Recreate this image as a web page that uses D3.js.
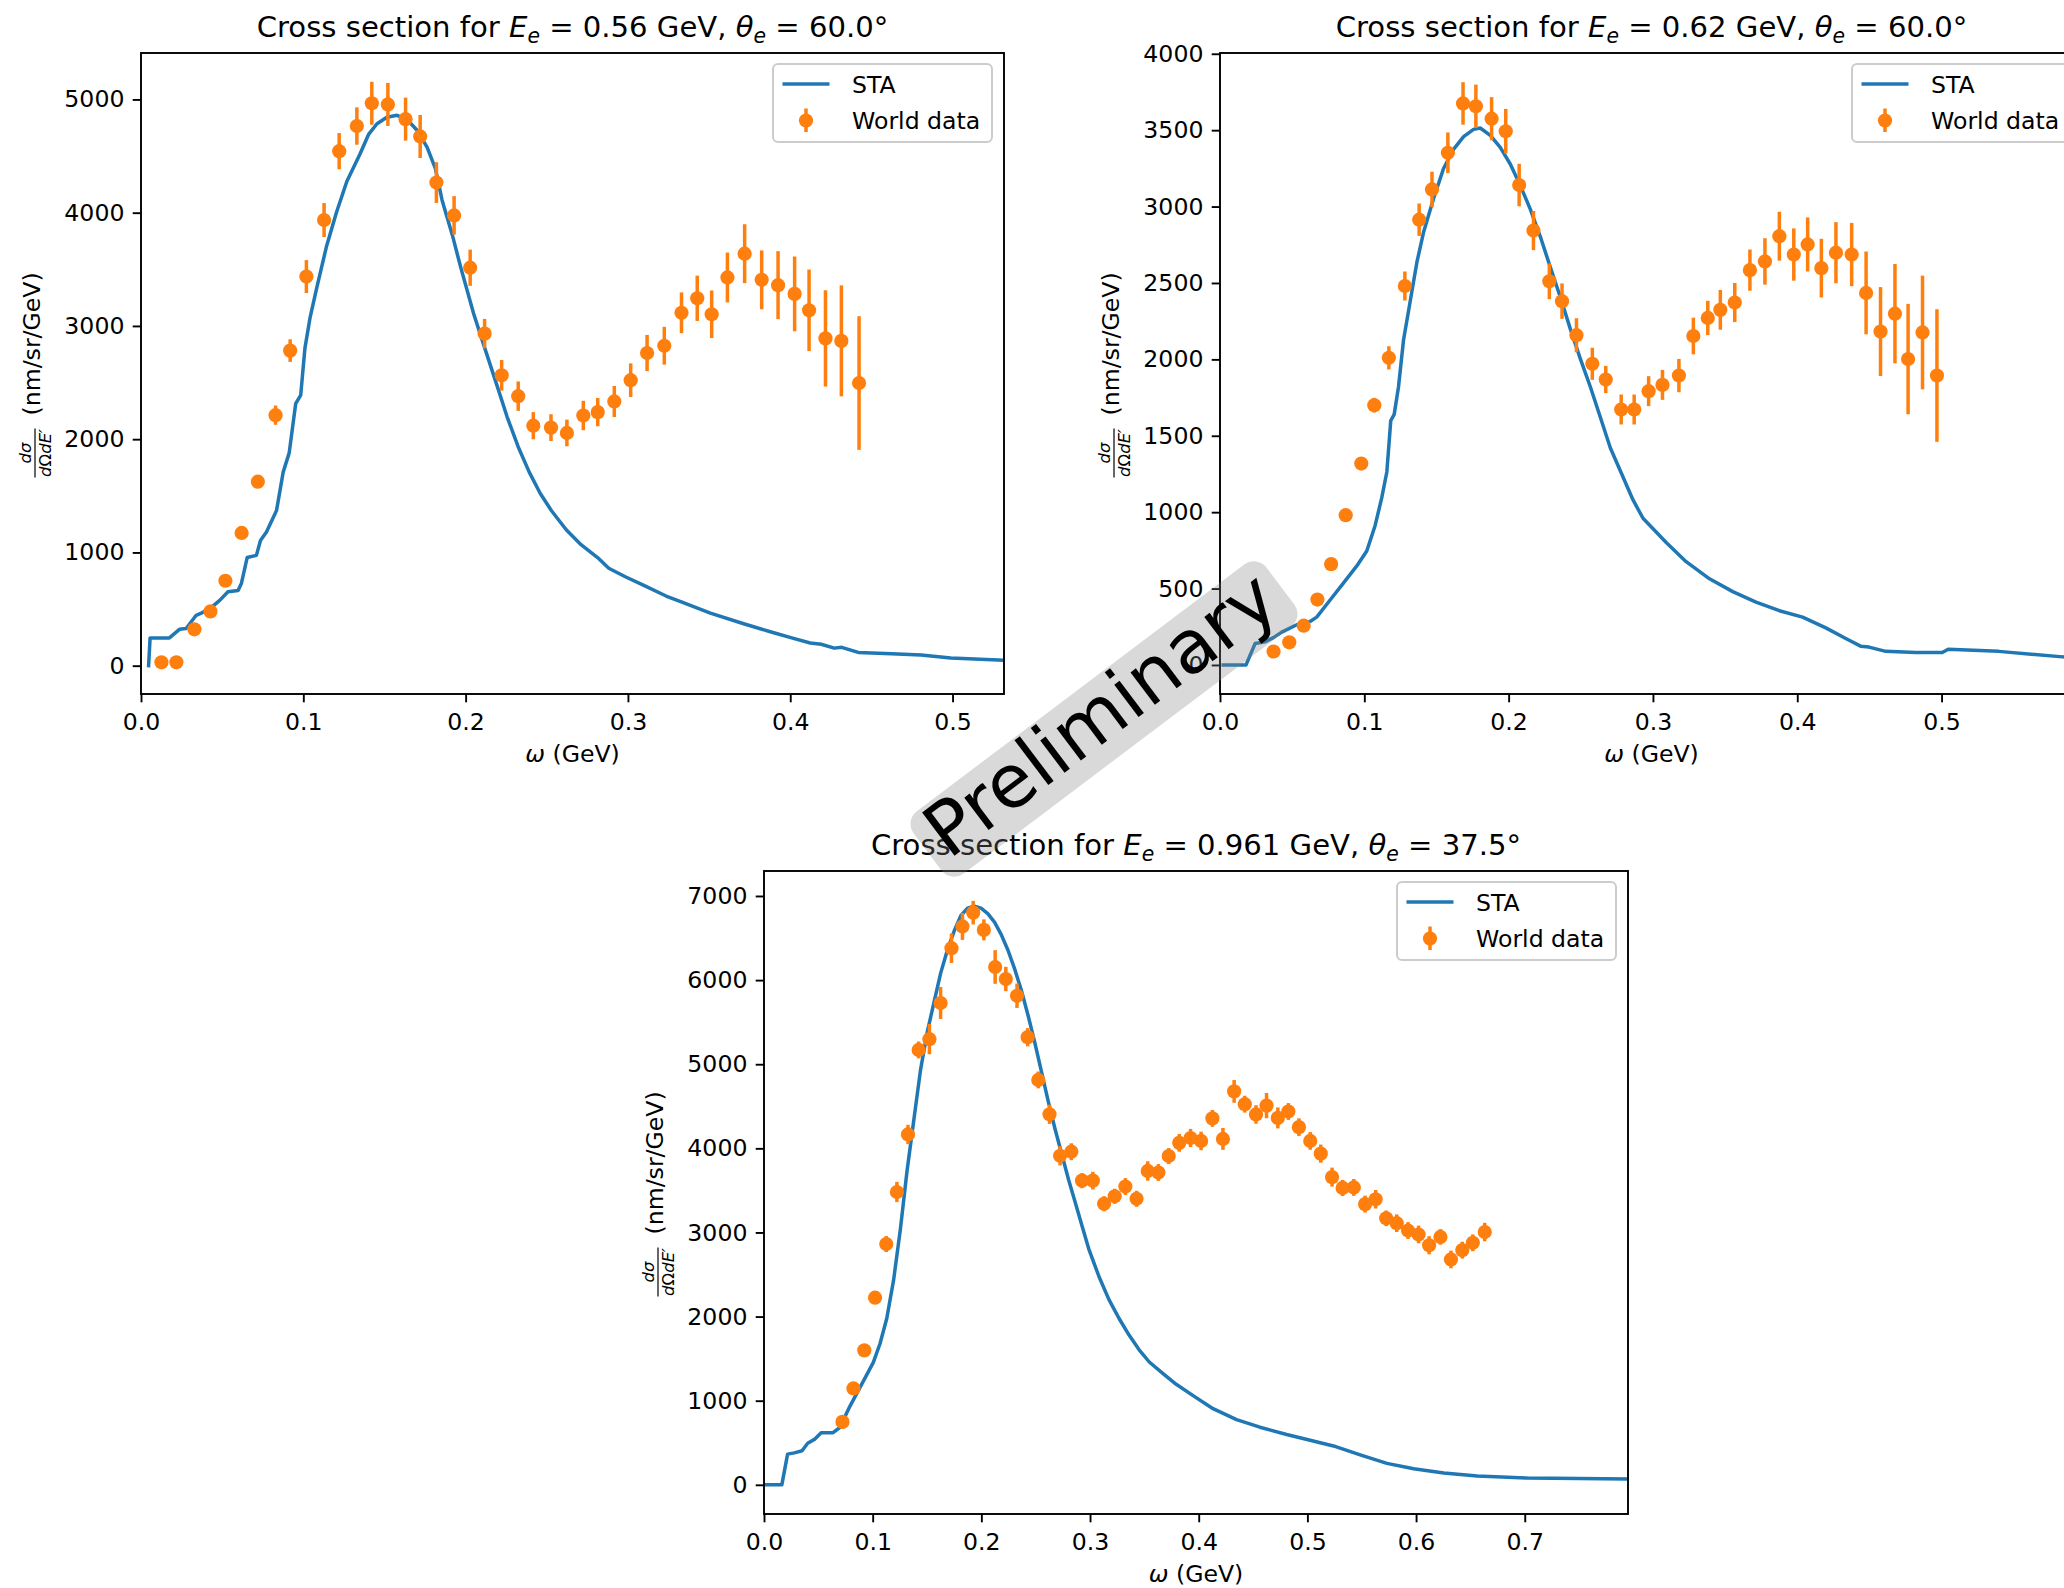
<!DOCTYPE html>
<html><head><meta charset="utf-8">
<script src="https://cdn.jsdelivr.net/npm/d3@7"></script>
<style>
html,body{margin:0;padding:0;background:#fff;overflow:hidden;}
svg text{font-family:"DejaVu Sans",sans-serif;white-space:pre;}
</style></head><body>
<svg id="fig" width="2064" height="1588"></svg>
<script>
// ---------------- data ----------------
// Panel 1 : E = 0.56 GeV, theta = 60.0
const p1Title = ["0.56", "60.0"];
const p1XTicks = [0.0, 0.1, 0.2, 0.3, 0.4, 0.5];
const p1YTicks = [0, 1000, 2000, 3000, 4000, 5000];
const p1StaX = [0.0047,0.0056,0.0175,0.0237,0.0278,0.034,0.0371,0.0423,0.0485,0.0536,0.0598,0.0619,0.0654,0.0711,0.0736,0.0773,0.0835,0.0876,0.0913,0.0953,0.0984,0.101,0.1041,0.1082,0.1144,0.1206,0.1268,0.135,0.1402,0.1454,0.1515,0.1577,0.1639,0.1701,0.1763,0.1814,0.1855,0.1918,0.1969,0.205,0.2118,0.2187,0.2255,0.2323,0.2392,0.246,0.2528,0.262,0.2711,0.2813,0.2882,0.2984,0.3098,0.3235,0.3337,0.3508,0.3713,0.3872,0.4009,0.4123,0.4191,0.4271,0.4317,0.4419,0.4624,0.4806,0.4989,0.5317];
const p1StaY = [0,245,245,321,328,445,464,502,577,653,664,728,955,974,1106,1181,1370,1709,1879,2313,2389,2804,3068,3332,3709,4011,4275,4521,4691,4785,4842,4860,4823,4728,4577,4389,4110,3804,3521,3106,2804,2502,2200,1936,1709,1521,1370,1200,1068,955,860,785,709,615,558,464,370,302,245,200,189,155,162,117,106,94,68,49];
const p1DataX = [0.0126,0.0218,0.0329,0.0428,0.052,0.062,0.072,0.0829,0.0919,0.1019,0.1128,0.1221,0.133,0.1422,0.1521,0.163,0.172,0.182,0.1929,0.2028,0.2117,0.2222,0.2324,0.2417,0.2526,0.2624,0.2725,0.2814,0.2916,0.3017,0.3118,0.3224,0.333,0.3427,0.3516,0.3613,0.3719,0.3824,0.3925,0.4027,0.4116,0.4217,0.4315,0.4424];
const p1DataY = [30,30,321,479,750,1172,1625,2212,2782,3436,3935,4543,4765,4966,4956,4826,4673,4266,3976,3514,2932,2564,2380,2119,2102,2055,2209,2239,2333,2521,2761,2825,3116,3244,3103,3428,3638,3407,3360,3283,3138,2890,2868,2496];
const p1DataErr = [25,25,30,35,40,45,50,85,100,145,150,160,165,190,190,190,190,180,170,160,130,135,130,120,118,118,130,125,137,148,160,167,180,200,210,220,260,260,300,330,360,425,490,590];

// Panel 2 : E = 0.62 GeV, theta = 60.0
const p2Title = ["0.62", "60.0"];
const p2XTicks = [0.0, 0.1, 0.2, 0.3, 0.4, 0.5];
const p2YTicks = [0, 500, 1000, 1500, 2000, 2500, 3000, 3500, 4000];
const p2StaX = [0.0022,0.018,0.0243,0.0312,0.037,0.0428,0.0532,0.0624,0.067,0.0763,0.0855,0.0948,0.1017,0.1075,0.1121,0.1156,0.1172,0.1183,0.1207,0.1237,0.1272,0.1318,0.1364,0.141,0.148,0.1549,0.1618,0.1688,0.1757,0.1803,0.1873,0.1942,0.2012,0.2081,0.215,0.222,0.2289,0.2358,0.2428,0.2497,0.2566,0.2636,0.2705,0.2862,0.2931,0.3092,0.323,0.3392,0.3553,0.3714,0.3876,0.4037,0.4198,0.4336,0.4439,0.4497,0.4613,0.482,0.5005,0.5046,0.5396,0.5839,0.598];
const p2StaY = [0,0,140,151,179,215,263,285,313,425,536,648,746,913,1095,1263,1458,1598,1640,1821,2128,2380,2634,2830,3053,3249,3374,3458,3505,3514,3466,3388,3277,3137,2983,2802,2603,2408,2198,2003,1821,1620,1420,1080,960,802,676,564,480,411,355,313,243,173,123,117,89,81,81,103,89,53,45];
const p2DataX = [0.0371,0.048,0.058,0.0675,0.077,0.0871,0.0979,0.1069,0.117,0.1281,0.138,0.1469,0.1579,0.1684,0.1773,0.1882,0.198,0.2073,0.2172,0.2282,0.237,0.247,0.258,0.2673,0.278,0.287,0.297,0.3066,0.318,0.328,0.338,0.3467,0.3567,0.3672,0.3776,0.3876,0.3976,0.4072,0.4167,0.4268,0.4377,0.4477,0.4577,0.4677,0.4768,0.4868,0.4968];
const p2DataY = [88,148,257,428,660,980,1318,1700,2010,2480,2914,3112,3352,3675,3656,3575,3493,3141,2843,2511,2381,2158,1971,1868,1672,1672,1792,1833,1894,2153,2271,2324,2372,2584,2641,2806,2686,2752,2597,2698,2686,2435,2182,2299,2002,2176,1894];
const p2DataErr = [20,22,25,28,32,36,40,48,76,95,106,116,133,139,142,141,146,139,128,117,116,111,105,89,98,98,98,98,109,120,112,130,128,135,152,160,171,177,192,200,207,271,291,325,361,372,434];

// Panel 3 : E = 0.961 GeV, theta = 37.5
const p3Title = ["0.961", "37.5"];
const p3XTicks = [0.0, 0.1, 0.2, 0.3, 0.4, 0.5, 0.6, 0.7];
const p3YTicks = [0, 1000, 2000, 3000, 4000, 5000, 6000, 7000];
const p3StaX = [0.0022,0.0164,0.0217,0.0279,0.035,0.0402,0.0464,0.0526,0.0635,0.0697,0.0789,0.0913,0.1006,0.1068,0.113,0.1192,0.1254,0.1316,0.1378,0.144,0.1502,0.1563,0.1625,0.1687,0.1749,0.1811,0.1873,0.1935,0.1997,0.2059,0.2121,0.2183,0.2245,0.2307,0.2368,0.243,0.2492,0.2554,0.2616,0.2678,0.274,0.2802,0.2864,0.2926,0.2988,0.3081,0.3173,0.3266,0.3359,0.3452,0.3545,0.3669,0.3793,0.3948,0.4132,0.4348,0.4563,0.4809,0.5025,0.524,0.5486,0.5732,0.5978,0.6255,0.6563,0.7025,0.7948];
const p3StaY = [0,0,365,380,405,495,540,620,620,680,930,1230,1455,1680,1980,2430,3030,3730,4330,4930,5380,5730,6080,6355,6580,6765,6855,6880,6855,6790,6690,6540,6355,6130,5880,5580,5255,4905,4555,4230,3930,3630,3355,3080,2805,2480,2205,1980,1780,1605,1460,1325,1195,1060,905,775,685,598,530,462,355,255,190,140,105,80,70];
const p3DataX = [0.0722,0.0823,0.0923,0.1022,0.1125,0.1223,0.1325,0.1423,0.1522,0.1625,0.1725,0.1826,0.1925,0.2023,0.2127,0.2225,0.2328,0.2426,0.2524,0.2627,0.2724,0.2828,0.2926,0.3026,0.3129,0.3227,0.3325,0.3428,0.3531,0.3629,0.3724,0.3821,0.3925,0.4022,0.4126,0.4223,0.4326,0.4424,0.4527,0.4624,0.4728,0.4825,0.4922,0.5026,0.5123,0.5227,0.5324,0.5427,0.5531,0.5628,0.5725,0.5822,0.5926,0.6023,0.612,0.6224,0.6321,0.6425,0.6522,0.6632];
const p3DataY = [748,1146,1598,2225,2862,3481,4165,5170,5298,5728,6379,6638,6802,6597,6156,6013,5814,5321,4813,4405,3912,3960,3616,3616,3341,3430,3546,3400,3731,3713,3908,4065,4123,4088,4356,4112,4677,4525,4403,4508,4362,4438,4252,4088,3937,3658,3529,3535,3337,3395,3168,3110,3023,2976,2848,2947,2679,2790,2877,3005];
const p3DataErr = [40,50,50,60,95,120,115,100,180,190,175,160,140,125,200,145,145,108,100,115,115,100,90,105,90,90,100,95,115,100,95,105,108,110,100,130,135,100,110,150,125,100,105,105,108,113,96,100,100,110,93,105,100,105,108,93,105,100,100,110];

const legendLabels = ["STA", "World data"];
const watermarkText = "Preliminary";

// ---------------- layout / style ----------------
const C_LINE = "#1f77b4", C_DATA = "#ff7f0e";
const FS = 23.6, TFS = 29.1;
const TICK = 8.3, LW_SPINE = 1.9, LW = 3.5, MR = 7.1;

const panels = [
  {left:141, top:53, w:863, h:641, xmax:0.5317, ymin:-250, ymax:5410, title:p1Title, xt:p1XTicks, yt:p1YTicks,
   sx:p1StaX, sy:p1StaY, dx:p1DataX, dy:p1DataY, de:p1DataErr},
  {left:1220, top:53, w:863, h:641, xmax:0.598, ymin:-190, ymax:4005, title:p2Title, xt:p2XTicks, yt:p2YTicks,
   sx:p2StaX, sy:p2StaY, dx:p2DataX, dy:p2DataY, de:p2DataErr},
  {left:764, top:871, w:864, h:643, xmax:0.795, ymin:-347, ymax:7297, title:p3Title, xt:p3XTicks, yt:p3YTicks,
   sx:p3StaX, sy:p3StaY, dx:p3DataX, dy:p3DataY, de:p3DataErr}
];

const svg = d3.select("#fig");
svg.append("rect").attr("width",2064).attr("height",1588).attr("fill","#fff");

panels.forEach((p, i) => {
  const g = svg.append("g").attr("transform", `translate(${p.left},${p.top})`);
  const x = d3.scaleLinear().domain([0, p.xmax]).range([0, p.w]);
  const y = d3.scaleLinear().domain([p.ymin, p.ymax]).range([p.h, 0]);

  const cid = "clip" + i;
  g.append("clipPath").attr("id", cid).append("rect").attr("width", p.w).attr("height", p.h);
  const plot = g.append("g").attr("clip-path", `url(#${cid})`);

  const sta = p.sx.map((v, k) => [v, p.sy[k]]);
  plot.append("path").datum(sta)
    .attr("d", d3.line().x(d => x(d[0])).y(d => y(d[1])))
    .attr("fill", "none").attr("stroke", C_LINE).attr("stroke-width", LW)
    .attr("stroke-linejoin", "round").attr("stroke-linecap", "square");

  const pts = p.dx.map((v, k) => ({x: v, y: p.dy[k], e: p.de[k]}));
  plot.append("g").selectAll("line").data(pts).join("line")
    .attr("x1", d => x(d.x)).attr("x2", d => x(d.x))
    .attr("y1", d => y(d.y - d.e)).attr("y2", d => y(d.y + d.e))
    .attr("stroke", C_DATA).attr("stroke-width", LW);
  plot.append("g").selectAll("circle").data(pts).join("circle")
    .attr("cx", d => x(d.x)).attr("cy", d => y(d.y)).attr("r", MR)
    .attr("fill", C_DATA);

  // axes
  const xa = g.append("g").attr("transform", `translate(0,${p.h})`)
    .call(d3.axisBottom(x).tickValues(p.xt).tickFormat(d3.format(".1f")).tickSize(TICK).tickPadding(10.5));
  const ya = g.append("g")
    .call(d3.axisLeft(y).tickValues(p.yt).tickFormat(d3.format("d")).tickSize(TICK).tickPadding(8.3));
  [xa, ya].forEach(a => {
    a.select(".domain").remove();
    a.selectAll(".tick line").attr("stroke", "#000").attr("stroke-width", LW_SPINE);
    a.selectAll(".tick text").attr("fill", "#000").style("font-size", FS + "px")
      .style("font-family", '"DejaVu Sans",sans-serif');
  });

  // spines
  g.append("rect").attr("width", p.w).attr("height", p.h)
    .attr("fill", "none").attr("stroke", "#000").attr("stroke-width", LW_SPINE);

  // title
  const t = g.append("text").attr("x", p.w / 2).attr("y", -16).attr("text-anchor", "middle")
    .style("font-size", TFS + "px").attr("fill", "#000");
  const sub = TFS * 0.2;
  t.append("tspan").text("Cross section for ");
  t.append("tspan").attr("font-style", "italic").text("E");
  t.append("tspan").attr("font-style", "italic").style("font-size", (TFS * 0.7) + "px").attr("dy", sub).text("e");
  t.append("tspan").attr("dy", -sub).text(` = ${p.title[0]} GeV, `);
  t.append("tspan").attr("font-style", "italic").text("θ");
  t.append("tspan").attr("font-style", "italic").style("font-size", (TFS * 0.7) + "px").attr("dy", sub).text("e");
  t.append("tspan").attr("dy", -sub).text(` = ${p.title[1]}°`);

  // x label
  const xl = g.append("text").attr("x", p.w / 2).attr("y", p.h + 67.5).attr("text-anchor", "middle")
    .style("font-size", FS + "px").attr("fill", "#000");
  xl.append("tspan").attr("font-style", "italic").text("ω");
  xl.append("tspan").text(" (GeV)");

  // y label (rotated)
  const yl = g.append("g").attr("transform", `translate(-101,${p.h / 2}) rotate(-90)`);
  const ffs = 16.5;
  yl.append("line").attr("x1", -104).attr("x2", -55).attr("y1", -5).attr("y2", -5)
    .attr("stroke", "#000").attr("stroke-width", 1.2);
  const num = yl.append("text").attr("x", -79.5).attr("y", -9).attr("text-anchor", "middle")
    .style("font-size", ffs + "px").attr("fill", "#000").attr("font-style", "italic");
  num.text("dσ");
  const den = yl.append("text").attr("x", -79.5).attr("y", 10.5).attr("text-anchor", "middle")
    .style("font-size", ffs + "px").attr("fill", "#000");
  den.append("tspan").attr("font-style", "italic").text("d");
  den.append("tspan").text("Ω");
  den.append("tspan").attr("font-style", "italic").text("dE′");
  yl.append("text").attr("x", -42).attr("y", 0).style("font-size", FS + "px").attr("fill", "#000")
    .text("(nm/sr/GeV)");

  // legend
  const lw = 219, lh = 78;
  const lg = g.append("g").attr("transform", `translate(${p.w - 12 - lw},11)`);
  lg.append("rect").attr("width", lw).attr("height", lh).attr("rx", 5).attr("ry", 5)
    .attr("fill", "#fff").attr("fill-opacity", 0.8).attr("stroke", "#cccccc").attr("stroke-width", 2);
  lg.append("line").attr("x1", 9.5).attr("x2", 56.5).attr("y1", 20).attr("y2", 20)
    .attr("stroke", C_LINE).attr("stroke-width", LW);
  lg.append("line").attr("x1", 33).attr("x2", 33).attr("y1", 44.5).attr("y2", 68)
    .attr("stroke", C_DATA).attr("stroke-width", LW);
  lg.append("circle").attr("cx", 33).attr("cy", 56.5).attr("r", MR).attr("fill", C_DATA);
  lg.append("text").attr("x", 79).attr("y", 28.5).style("font-size", FS + "px").attr("fill", "#000").text(legendLabels[0]);
  lg.append("text").attr("x", 79).attr("y", 64.5).style("font-size", FS + "px").attr("fill", "#000").text(legendLabels[1]);
});

// watermark
const wm = svg.append("g").attr("transform", "translate(1104,719) rotate(-37)");
const wfs = 74;
const wt = wm.append("text").attr("text-anchor", "middle").attr("y", wfs * 0.26)
  .style("font-size", wfs + "px").attr("fill", "#000").text(watermarkText);
const tw = wt.node().getComputedTextLength();
const bl = tw + 24, bh = 78;
wm.insert("rect", "text").attr("x", -bl / 2).attr("y", -bh / 2)
  .attr("width", bl).attr("height", bh).attr("rx", 16).attr("ry", 16)
  .attr("fill", "gray").attr("fill-opacity", 0.3);
</script>
</body></html>
